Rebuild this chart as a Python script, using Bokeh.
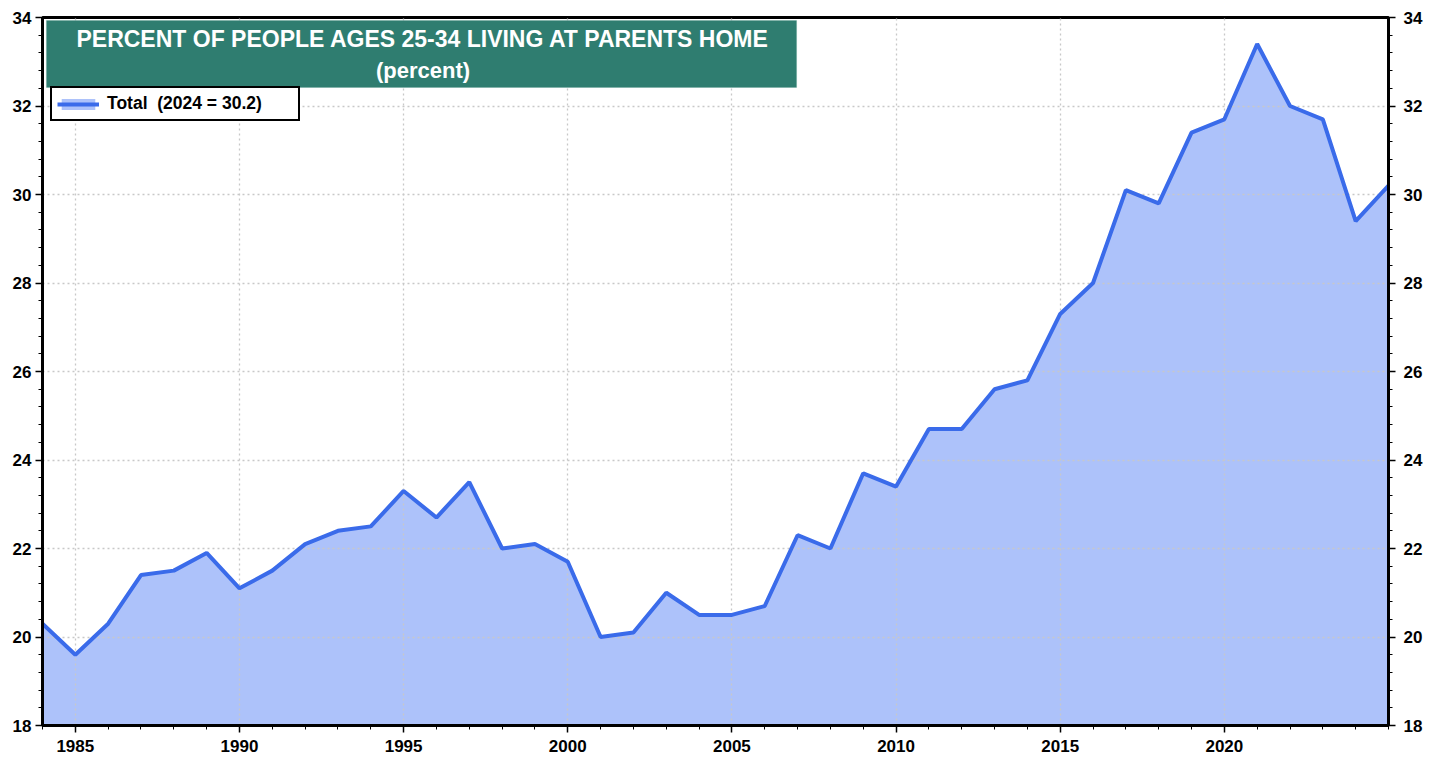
from bokeh.plotting import figure
from bokeh.models import (ColumnDataSource, LinearAxis, FixedTicker, BoxAnnotation,
                          Label, Legend, LegendItem, Range1d)
from bokeh.embed import file_html
from bokeh.resources import INLINE

years = list(range(1984, 2026))
values = [20.3, 19.6, 20.3, 21.4, 21.5, 21.9, 21.1, 21.5, 22.1, 22.4, 22.5, 23.3,
          22.7, 23.5, 22.0, 22.1, 21.7, 20.0, 20.1, 21.0, 20.5, 20.5, 20.7, 22.3,
          22.0, 23.7, 23.4, 24.7, 24.7, 25.6, 25.8, 27.3, 28.0, 30.1, 29.8, 31.4,
          31.7, 33.4, 32.0, 31.7, 29.4, 30.2]
x_major = [1985, 1990, 1995, 2000, 2005, 2010, 2015, 2020]
y_major = [18, 20, 22, 24, 26, 28, 30, 32, 34]
title_line1 = "PERCENT OF PEOPLE AGES 25-34 LIVING AT PARENTS HOME"
title_line2 = "(percent)"
legend_label = "Total \u00a0(2024 = 30.2)"

FONT = "Liberation Sans"
FILL = "#adc2fa"
LINE = "#3a6bea"
TEAL = "#2f7d70"

src = ColumnDataSource(dict(x=years, y=values, base=[18] * len(years)))

p = figure(width=1440, height=760, output_backend="svg", toolbar_location=None,
           x_range=Range1d(1984, 2025), y_range=Range1d(18, 34),
           min_border_left=42, min_border_right=52, min_border_top=17, min_border_bottom=35,
           background_fill_color="white", border_fill_color="white")
p.outline_line_color = "black"
p.outline_line_width = 3

area = p.varea(x="x", y1="base", y2="y", source=src, fill_color=FILL, level="image")
ln = p.line(x="x", y="y", source=src, line_color=LINE, line_width=4)

# grids
for g in (p.xgrid, p.ygrid):
    g.grid_line_color = "#c8c8c8"
    g.grid_line_dash = "2 3"
    g.grid_line_width = 1.3
    g.level = "underlay"
p.xgrid.ticker = FixedTicker(ticks=x_major)
p.ygrid.ticker = FixedTicker(ticks=y_major)

y_minor = [18 + 0.4 * i for i in range(41)]

def style_axis(ax, standoff):
    ax.axis_line_color = "black"
    ax.axis_line_width = 3
    ax.major_tick_line_color = "black"
    ax.minor_tick_line_color = "black"
    ax.major_tick_line_width = 1.5
    ax.minor_tick_line_width = 1
    ax.major_tick_out = 7
    ax.major_tick_in = 0
    ax.minor_tick_out = 4
    ax.minor_tick_in = 0
    ax.major_label_text_font = FONT
    ax.major_label_text_font_style = "bold"
    ax.major_label_text_font_size = "17px"
    ax.major_label_text_color = "black"
    ax.major_label_standoff = standoff

p.xaxis.ticker = FixedTicker(ticks=x_major, minor_ticks=years)
style_axis(p.xaxis[0], 7)
p.yaxis.ticker = FixedTicker(ticks=y_major, minor_ticks=y_minor)
style_axis(p.yaxis[0], 4)

right = LinearAxis(ticker=FixedTicker(ticks=y_major, minor_ticks=y_minor))
style_axis(right, 8)
p.add_layout(right, "right")

# title box
p.add_layout(BoxAnnotation(left=1984.12, right=2006.97, top=33.93, bottom=32.42,
                           fill_color=TEAL, fill_alpha=1.0, line_color="#5a9a8e",
                           line_width=1, level="overlay"))
p.add_layout(Label(x=1995.59, y=33.52, text=title_line1, text_align="center",
                   text_baseline="middle", text_color="white", text_font=FONT,
                   text_font_style="bold", text_font_size="23px", level="overlay"))
p.add_layout(Label(x=1995.59, y=32.80, text=title_line2, text_align="center",
                   text_baseline="middle", text_color="white", text_font=FONT,
                   text_font_style="bold", text_font_size="22px", level="overlay"))

legend = Legend(items=[LegendItem(label=legend_label, renderers=[area, ln])],
                location=(8, 604), border_line_color="black", border_line_width=2,
                border_line_alpha=1.0,
                background_fill_color="white", background_fill_alpha=1.0,
                label_text_font=FONT, label_text_font_style="bold",
                label_text_font_size="17.5px", label_text_color="black",
                glyph_width=42, glyph_height=14,
                padding=5, margin=0, label_standoff=8, spacing=0,
                label_height=16, label_width=186)
p.add_layout(legend, "center")

open("out.html", "w").write(file_html(p, INLINE))
